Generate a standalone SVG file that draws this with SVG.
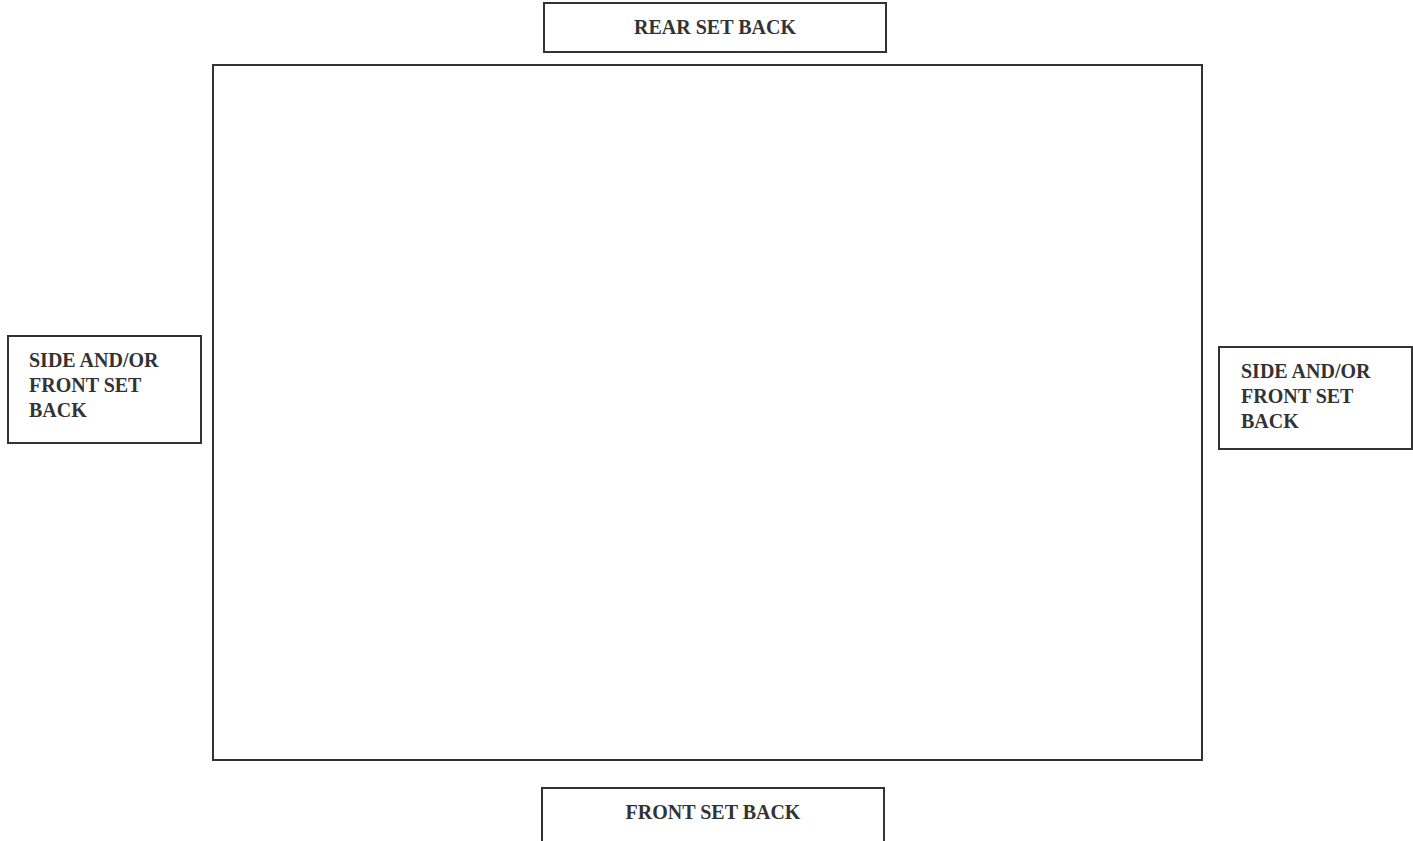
<svg xmlns="http://www.w3.org/2000/svg" width="1413" height="841" viewBox="0 0 1413 841">
<style>
.box{fill:none;stroke:#333;stroke-width:2}
.lbl{font-family:"Liberation Serif","Times New Roman",serif;font-size:20px;font-weight:bold;fill:#333}
</style>
<rect width="1413" height="841" fill="#fff"/>
<g id="lot"><rect class="box" x="213" y="65" width="989" height="695"/></g>
<g id="rear"><rect class="box" x="544" y="3" width="342" height="49"/><text class="lbl" x="715" y="34" text-anchor="middle">REAR SET BACK</text></g>
<g id="left"><rect class="box" x="8" y="336" width="193" height="107"/><text class="lbl" x="29" y="367">SIDE AND/OR</text><text class="lbl" x="29" y="392">FRONT SET</text><text class="lbl" x="29" y="417">BACK</text></g>
<g id="right"><rect class="box" x="1219" y="347" width="193" height="102"/><text class="lbl" x="1241" y="378">SIDE AND/OR</text><text class="lbl" x="1241" y="403">FRONT SET</text><text class="lbl" x="1241" y="428">BACK</text></g>
<g id="front"><path class="box" d="M542 842 V788 H884 V842"/><text class="lbl" x="713" y="819" text-anchor="middle">FRONT SET BACK</text></g>
<g id="connectors"></g>
</svg>
